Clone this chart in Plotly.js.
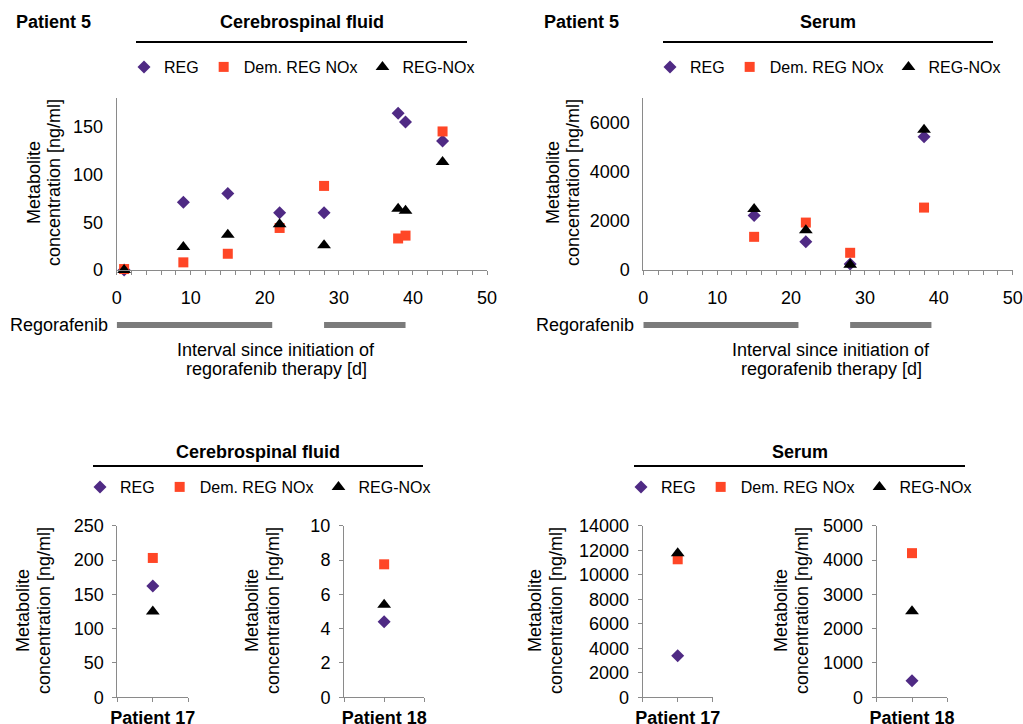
<!DOCTYPE html>
<html><head><meta charset="utf-8">
<script src="https://cdn.plot.ly/plotly-3.0.1.min.js"></script>
<style>html,body{margin:0;padding:0;background:#fff}</style>
</head><body><div id="chart" style="width:1023px;height:724px"></div>
<script>
// ---------- data ----------
const seriesNames = ['REG', 'Dem. REG NOx', 'REG-NOx'];
const daysCSF = [1, 9, 15, 22, 28, 38, 39, 44];
const csfREG  = [0, 71, 80, 60, 60, 164, 155, 135];
const csfDem  = [1, 8, 17, 44, 88, 33, 36, 145];
const csfNOx  = [0, 24, 37, 48, 26, 64, 62, 113];
const daysSerum = [15, 22, 28, 38];
const serREG  = [2220, 1150, 240, 5420];
const serDem  = [1350, 1930, 700, 2540];
const serNOx  = [2480, 1620, 210, 5710];
const regoStart = [0, 28];
const regoEnd   = [21, 39];
const patientLabels = ['Patient 17', 'Patient 18'];
const p17CSF   = [162, 203, 125];   // REG, Dem, NOx
const p18CSF   = [4.4, 7.75, 5.4];
const p17Serum = [3380, 11260, 11750];
const p18Serum = [480, 4200, 2510];
const xTicksDays = [0, 10, 20, 30, 40, 50];

// ---------- helpers ----------
const W = 1023, H = 724;
const fx = p => p / W, fy = p => 1 - p / H;
const FONT = 'Liberation Sans, Arial, sans-serif';
const AX = '#8a8a8a';
const styles = [
  {symbol: 'diamond', size: 10, color: '#4f2a84'},
  {symbol: 'square', size: 10, color: '#ff4626'},
  {symbol: 'triangle-up', size: 12, color: '#000000'}
];
const traces = [];
function addSeries(xs, ysList, ax, legendId) {
  ysList.forEach((ys, i) => {
    traces.push({
      type: 'scatter', mode: 'markers', x: xs, y: ys, name: seriesNames[i],
      xaxis: 'x' + ax, yaxis: 'y' + ax, cliponaxis: false,
      marker: {symbol: styles[i].symbol, size: styles[i].size, color: styles[i].color, line: {width: 0}},
      showlegend: !!legendId, legend: legendId || 'legend', hoverinfo: 'x+y'
    });
  });
}
addSeries(daysCSF, [csfREG, csfDem, csfNOx], '', 'legend');
addSeries(daysSerum, [serREG, serDem, serNOx], '2', 'legend2');
const single = (vals, ax, leg) => addSeries([1], vals.map(v => [v]), ax, leg);
single(p17CSF, '3', 'legend3');
single(p18CSF, '4', null);
single(p17Serum, '5', 'legend4');
single(p18Serum, '6', null);

function topX(d0, d1, anchor) {
  return {domain: [fx(d0), fx(d1)], anchor: anchor, range: [0, 50], tickvals: xTicksDays,
    showline: true, linecolor: AX, linewidth: 1, ticks: 'outside', ticklen: 4, tickcolor: AX,
    minor: {dtick: 2, tick0: 0, ticks: 'outside', ticklen: 4, tickcolor: AX},
    tickfont: {size: 18, family: FONT, color: '#000'}, ticklabelstandoff: 7,
    showgrid: false, zeroline: false, fixedrange: true};
}
function topY(anchor, range, dtick) {
  return {domain: [fy(270), fy(98)], anchor: anchor, range: range, dtick: dtick, tickformat: 'd',
    showline: true, linecolor: AX, linewidth: 1, ticks: '',
    tickfont: {size: 18, family: FONT, color: '#000'}, ticklabelstandoff: 9,
    showgrid: false, zeroline: false, fixedrange: true};
}
function botX(d0, d1, anchor, label) {
  return {domain: [fx(d0), fx(d1)], anchor: anchor, range: [0, 2], tickvals: [0, 1, 2],
    ticktext: ['', '<b>' + label + '</b>', ''],
    showline: true, linecolor: AX, linewidth: 1, ticks: 'outside', ticklen: 4, tickcolor: AX,
    tickfont: {size: 18, family: FONT, color: '#000'}, ticklabelstandoff: 0,
    showgrid: false, zeroline: false, fixedrange: true};
}
function botY(anchor, range, dtick) {
  return {domain: [fy(697.3), fy(525.7)], anchor: anchor, range: range, dtick: dtick, tickformat: 'd',
    showline: true, linecolor: AX, linewidth: 1, ticks: 'outside', ticklen: 4, tickcolor: AX,
    tickfont: {size: 18, family: FONT, color: '#000'}, ticklabelstandoff: 5,
    showgrid: false, zeroline: false, fixedrange: true};
}

const ann = [];
function txt(text, x, y, opt) {
  ann.push(Object.assign({text: text, x: fx(x), y: fy(y), xref: 'paper', yref: 'paper',
    showarrow: false, xanchor: 'center', yanchor: 'middle',
    font: {size: 18, family: FONT, color: '#000'}}, opt || {}));
}
// headings
txt('<b>Patient 5</b>', 14, 22, {xanchor: 'left'});
txt('<b>Patient 5</b>', 542, 22, {xanchor: 'left'});
txt('<b>Cerebrospinal fluid</b>', 302, 22);
txt('<b>Serum</b>', 828, 22);
txt('<b>Cerebrospinal fluid</b>', 258, 452);
txt('<b>Serum</b>', 800, 452);
// regorafenib labels
txt('Regorafenib', 110, 325, {xanchor: 'right'});
txt('Regorafenib', 636, 325, {xanchor: 'right'});
// x titles
txt('Interval since initiation of', 276, 350);
txt('regorafenib therapy [d]', 276, 369);
txt('Interval since initiation of', 831, 350);
txt('regorafenib therapy [d]', 831, 369);
// y titles
function ytitle(x1, x2, yc) {
  txt('Metabolite', x1, yc, {textangle: -90});
  txt('concentration [ng/ml]', x2, yc, {textangle: -90});
}
ytitle(34, 54, 183);
ytitle(553, 573, 183);
ytitle(23, 44, 611);
ytitle(252, 273, 611);
ytitle(535, 556, 611);
ytitle(781, 802, 611);

const shapes = [];
function hline(x0, x1, y) {
  shapes.push({type: 'line', xref: 'paper', yref: 'paper', x0: fx(x0), x1: fx(x1), y0: fy(y), y1: fy(y),
    line: {color: '#000', width: 2}});
}
hline(136, 467, 42); hline(663, 993, 42); hline(93, 423, 466); hline(634, 965, 466);
['x', 'x2'].forEach(xr => {
  regoStart.forEach((s, i) => {
    shapes.push({type: 'rect', xref: xr, yref: 'paper', x0: s, x1: regoEnd[i], y0: fy(328), y1: fy(322),
      fillcolor: '#7b7b7b', line: {width: 0}});
  });
});

function leg(xc, y) {
  return {orientation: 'h', x: fx(xc), xanchor: 'center', y: fy(y), yanchor: 'middle',
    font: {size: 16, family: FONT, color: '#000'}, bgcolor: 'rgba(0,0,0,0)', itemclick: false, itemdoubleclick: false};
}

const layout = {
  width: W, height: H, margin: {l: 0, r: 0, t: 0, b: 0}, autosize: false,
  paper_bgcolor: '#fff', plot_bgcolor: '#fff', font: {family: FONT, color: '#000'},
  xaxis: topX(116.7, 487, 'y'), yaxis: topY('x', [0, 180], 50),
  xaxis2: topX(643.3, 1012.7, 'y2'), yaxis2: topY('x2', [0, 7000], 2000),
  xaxis3: botX(117.3, 188.3, 'y3', patientLabels[0]), yaxis3: botY('x3', [0, 250], 50),
  xaxis4: botX(344, 424.3, 'y4', patientLabels[1]), yaxis4: botY('x4', [0, 10], 2),
  xaxis5: botX(642.7, 712.7, 'y5', patientLabels[0]), yaxis5: botY('x5', [0, 14000], 2000),
  xaxis6: botX(876.7, 947.3, 'y6', patientLabels[1]), yaxis6: botY('x6', [0, 5000], 1000),
  legend: leg(302, 67), legend2: leg(828, 67), legend3: leg(258, 487), legend4: leg(799, 487),
  annotations: ann, shapes: shapes, hovermode: 'closest'
};
Plotly.newPlot('chart', traces, layout, {displayModeBar: false, staticPlot: false});
</script></body></html>
